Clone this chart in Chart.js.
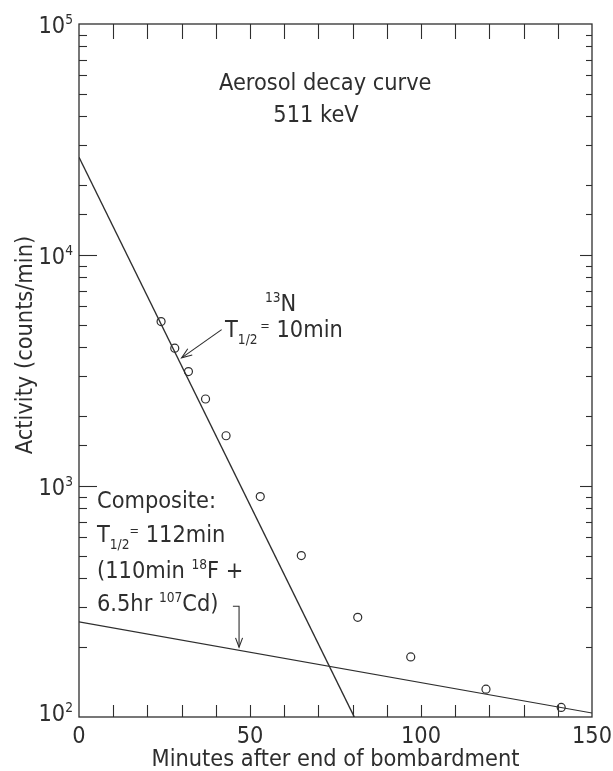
<!DOCTYPE html>
<html>
<head>
<meta charset="utf-8">
<title>Aerosol decay curve</title>
<script src="https://cdn.jsdelivr.net/npm/chart.js@4.4.1/dist/chart.umd.min.js"></script>
<style>
  html, body { margin: 0; padding: 0; background: #fff; }
  canvas { display: block; }
</style>
</head>
<body>
<canvas id="decay" width="613" height="771"></canvas>
<script>
// Measured 511 keV activity of the aerosol sample (open circles)
const minutes  = [24, 28, 32, 37, 43, 53, 65, 81.5, 97, 119, 141];
const activity = [5150, 3950, 3130, 2380, 1650, 900, 500, 270, 182, 132, 110];

// 13N component, T1/2 = 10 min
const n13Minutes  = [0, 80.5];
const n13Activity = [26500, 100];

// Composite long-lived component, T1/2 = 112 min
const compositeMinutes  = [0, 150];
const compositeActivity = [258, 104];

// Axis labelling
const xLabelValues = [0, 50, 100, 150];
const yDecades = [2, 3, 4, 5];

const FONT = "'DejaVu Sans Condensed', 'DejaVu Sans', sans-serif";
const INK = '#2e2e2e';
let fontScale = 1;
const font = size => (size * fontScale).toFixed(2) + 'px ' + FONT;

function seg(ctx, x1, y1, x2, y2) {
  ctx.beginPath();
  ctx.moveTo(x1, y1);
  ctx.lineTo(x2, y2);
  ctx.stroke();
}

// Draws a run of text pieces: [text, size, raise]
function rich(ctx, x, y, parts) {
  let cx = x;
  for (const [t, s, dy] of parts) {
    ctx.font = font(s);
    ctx.fillText(t, cx, y + (dy || 0));
    cx += ctx.measureText(t).width;
  }
  return cx;
}
function richWidth(ctx, parts) {
  let w = 0;
  for (const [t, s] of parts) { ctx.font = font(s); w += ctx.measureText(t).width; }
  return w;
}

// Polyline ending in an open V arrowhead
function arrow(ctx, pts, head) {
  ctx.beginPath();
  ctx.moveTo(pts[0][0], pts[0][1]);
  for (let i = 1; i < pts.length; i++) ctx.lineTo(pts[i][0], pts[i][1]);
  ctx.stroke();
  const [x1, y1] = pts[pts.length - 2];
  const [x2, y2] = pts[pts.length - 1];
  const ang = Math.atan2(y2 - y1, x2 - x1);
  ctx.beginPath();
  ctx.moveTo(x2 - head * Math.cos(ang - 0.36), y2 - head * Math.sin(ang - 0.36));
  ctx.lineTo(x2, y2);
  ctx.lineTo(x2 - head * Math.cos(ang + 0.36), y2 - head * Math.sin(ang + 0.36));
  ctx.stroke();
}

const isDecade = v => Math.abs(Math.log10(v) - Math.round(Math.log10(v))) < 1e-9;

// Frame, inward ticks, tick labels, titles and notes
const plotFrame = {
  id: 'plotFrame',
  afterDatasetsDraw(chart) {
    const { ctx, chartArea: a, scales: { x, y } } = chart;
    const P = (t, v) => [x.getPixelForValue(t), y.getPixelForValue(v)];
    ctx.save();

    // keep the lettering at a fixed overall width whatever face is chosen
    const xTitle = 'Minutes after end of bombardment';
    fontScale = 1;
    ctx.font = font(24);
    fontScale = Math.min(1.15, Math.max(0.85, 368 / ctx.measureText(xTitle).width));

    ctx.strokeStyle = INK;
    ctx.fillStyle = INK;

    // frame
    ctx.lineWidth = 1.3;
    ctx.strokeRect(a.left, a.top, a.right - a.left, a.bottom - a.top);

    // minute ticks on bottom and top
    ctx.lineWidth = 1.1;
    x.ticks.forEach(t => {
      if (t.value <= x.min || t.value >= x.max) return;
      const px = Math.round(x.getPixelForValue(t.value)) + 0.5;
      seg(ctx, px, a.bottom, px, a.bottom - 12);
      seg(ctx, px, a.top, px, a.top + 15);
    });

    // logarithmic ticks on left and right
    y.ticks.forEach(t => {
      if (t.value <= y.min || t.value >= y.max) return;
      const py = Math.round(y.getPixelForValue(t.value)) + 0.5;
      const major = isDecade(t.value);
      seg(ctx, a.left, py, a.left + (major ? 18 : 8), py);
      seg(ctx, a.right, py, a.right - (major ? 12 : 6), py);
    });

    // x tick labels
    ctx.textBaseline = 'alphabetic';
    ctx.textAlign = 'center';
    ctx.font = font(24);
    xLabelValues.forEach(v => ctx.fillText(String(v), x.getPixelForValue(v), 743));

    // y tick labels 10^n (the lowest one sits a little higher, clear of the 0)
    ctx.textAlign = 'left';
    yDecades.forEach(d => {
      const py = y.getPixelForValue(Math.pow(10, d));
      const parts = [['10', 24, 0], [String(d), 14, -9]];
      const w = richWidth(ctx, parts);
      rich(ctx, a.left - 6 - w, py + (d === yDecades[0] ? 4 : 9), parts);
    });

    // axis titles
    ctx.textAlign = 'center';
    ctx.font = font(24);
    ctx.fillText(xTitle, (a.left + a.right) / 2, 766);
    ctx.save();
    ctx.translate(26, 345);
    ctx.rotate(-Math.PI / 2);
    ctx.textBaseline = 'middle';
    ctx.fillText('Activity (counts/min)', 0, 0);
    ctx.restore();

    // heading
    let p = P(72, 52000);
    ctx.font = font(24);
    ctx.fillText('Aerosol decay curve', p[0], p[1]);
    p = P(69.3, 37500);
    ctx.fillText('511 keV', p[0], p[1]);

    ctx.textAlign = 'left';
    // 13N label
    p = P(54.4, 5700);
    rich(ctx, p[0], p[1], [['13', 14, -9], ['N', 24, 0]]);
    p = P(42.7, 4436);
    rich(ctx, p[0], p[1], [['T', 24, 0], ['1/2', 14, 7], [' ', 10, 0], ['=', 13, -7], [' 10min', 24, 0]]);
    ctx.lineWidth = 1.1;
    arrow(ctx, [P(41.7, 4753), P(30.0, 3587)], 11);

    // composite label block
    p = P(5.26, 800);
    rich(ctx, p[0], p[1], [['Composite:', 24, 0]]);
    p = P(5.26, 570);
    rich(ctx, p[0], p[1], [['T', 24, 0], ['1/2', 14, 7], ['=', 13, -7], [' 112min', 24, 0]]);
    p = P(5.26, 398.6);
    rich(ctx, p[0], p[1], [['(110min ', 24, 0], ['18', 14, -9], ['F +', 24, 0]]);
    p = P(5.26, 287);
    rich(ctx, p[0], p[1], [['6.5hr ', 24, 0], ['107', 14, -9], ['Cd)', 24, 0]]);
    arrow(ctx, [P(45.0, 301.7), P(46.8, 301.7), P(46.8, 200.5)], 10);

    ctx.restore();
  }
};

const toPoints = (xs, ys) => xs.map((v, i) => ({ x: v, y: ys[i] }));

new Chart(document.getElementById('decay'), {
  type: 'scatter',
  data: {
    datasets: [
      {
        label: 'Measured activity',
        data: toPoints(minutes, activity),
        showLine: false,
        pointStyle: 'circle',
        pointRadius: 4,
        pointHoverRadius: 4,
        pointBorderWidth: 1.2,
        borderColor: INK,
        backgroundColor: 'rgba(0,0,0,0)'
      },
      {
        label: '13N, T1/2 = 10 min',
        data: toPoints(n13Minutes, n13Activity),
        showLine: true,
        pointRadius: 0,
        borderColor: INK,
        borderWidth: 1.4
      },
      {
        label: 'Composite, T1/2 = 112 min',
        data: toPoints(compositeMinutes, compositeActivity),
        showLine: true,
        pointRadius: 0,
        borderColor: INK,
        borderWidth: 1.1
      }
    ]
  },
  options: {
    responsive: false,
    animation: false,
    devicePixelRatio: 1,
    layout: { padding: { left: 79, right: 21, top: 24, bottom: 54 } },
    plugins: { legend: { display: false }, tooltip: { enabled: false } },
    scales: {
      x: {
        type: 'linear', min: 0, max: 150,
        ticks: { display: false, stepSize: 10 },
        grid: { display: false, drawTicks: false },
        border: { display: false },
        afterFit(s) { s.height = 0; s.paddingLeft = 0; s.paddingRight = 0; }
      },
      y: {
        type: 'logarithmic', min: 100, max: 100000,
        ticks: { display: false },
        grid: { display: false, drawTicks: false },
        border: { display: false },
        afterFit(s) { s.width = 0; s.paddingTop = 0; s.paddingBottom = 0; }
      }
    }
  },
  plugins: [plotFrame]
});
</script>
</body>
</html>
